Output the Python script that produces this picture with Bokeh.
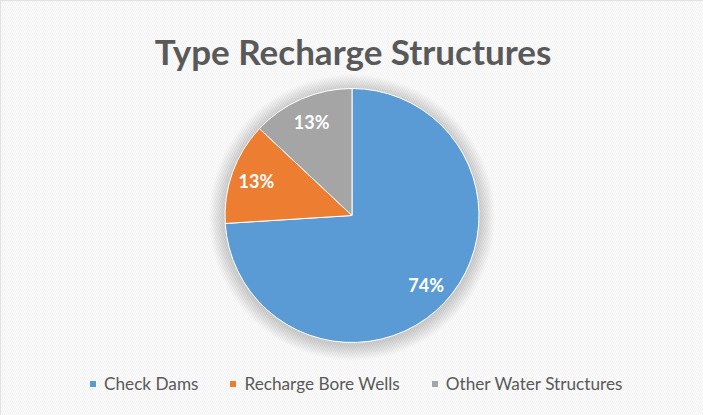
from math import pi, cos, sin
from bokeh.plotting import figure
from bokeh.models import ColumnDataSource, Range1d, Label
from bokeh.core.properties import value
from bokeh.embed import file_html
from bokeh.resources import INLINE

# ---- data ----
title_text = "Type Recharge Structures"
categories = ["Check Dams", "Recharge Bore Wells", "Other Water Structures"]
shares = [74, 13, 13]
colors = ["#5B9BD5", "#ED7D31", "#A5A5A5"]

# ---- layout (pixel-like data units) ----
W, H = 703, 415
cx, cy = 351.5, -215.0
R = 127.0
FONT = "Lato"
TXT = "#595959"

total = float(sum(shares))
starts, ends, lx, ly, labels = [], [], [], [], []
cum = 0.0
for v in shares:
    a0 = pi / 2 - 2 * pi * cum / total
    cum += v
    a1 = pi / 2 - 2 * pi * cum / total
    starts.append(a0)
    ends.append(a1)
    mid = (a0 + a1) / 2
    lx.append(cx + 0.8 * R * cos(mid))
    ly.append(cy + 0.8 * R * sin(mid))
    labels.append(f"{round(v / total * 100)}%")

src = ColumnDataSource(dict(cat=categories, start=starts, end=ends, color=colors,
                            lx=lx, ly=ly, lab=labels))

p = figure(width=W, height=H, output_backend="svg", toolbar_location=None,
           x_range=Range1d(0, W), y_range=Range1d(-H, 0),
           min_border=0)
p.axis.visible = False
p.grid.visible = False
p.outline_line_color = "#D9D9D9"
p.outline_line_width = 2
p.background_fill_color = "white"

# subtle diagonal texture of the chart area
p.quad(left=0, right=W, bottom=-H, top=0, fill_color="white",
       line_color=None, hatch_pattern="left_diagonal_line", hatch_color="#e6e6e6",
       hatch_scale=4, hatch_weight=1, hatch_alpha=0.6)

# soft glow around the pie
for k in range(16, 0, -1):
    p.circle(x=cx, y=cy - 2, radius=R + k, fill_color="#7f7f7f", fill_alpha=0.02,
             line_color=None)
p.circle(x=cx, y=cy, radius=R, fill_color="white", line_color=None)

p.wedge(x=cx, y=cy, radius=R, start_angle="start", end_angle="end", direction="clock",
        fill_color="color", line_color="white", line_width=1, source=src,
        legend_field="cat")

p.text(x="lx", y="ly", text="lab", source=src, text_color="white",
       text_font=value(FONT), text_font_style="bold", text_font_size="18px",
       text_align="center", text_baseline="middle")

title = Label(x=352.5, y=-50, text=title_text, text_font=FONT, text_font_style="bold",
              text_font_size="35px", text_color=TXT, text_align="center",
              text_baseline="alphabetic")
p.add_layout(title)

leg = p.legend[0]
leg.orientation = "horizontal"
leg.location = (88, 21)
leg.background_fill_alpha = 0
leg.border_line_color = None
leg.padding = 0
leg.margin = 0
leg.spacing = 30
leg.label_standoff = 7
leg.glyph_width = 9
leg.glyph_height = 9
leg.label_text_font = FONT
leg.label_text_font_size = "17.2px"
leg.label_text_color = TXT

open("out.html", "w").write(file_html(p, INLINE))
